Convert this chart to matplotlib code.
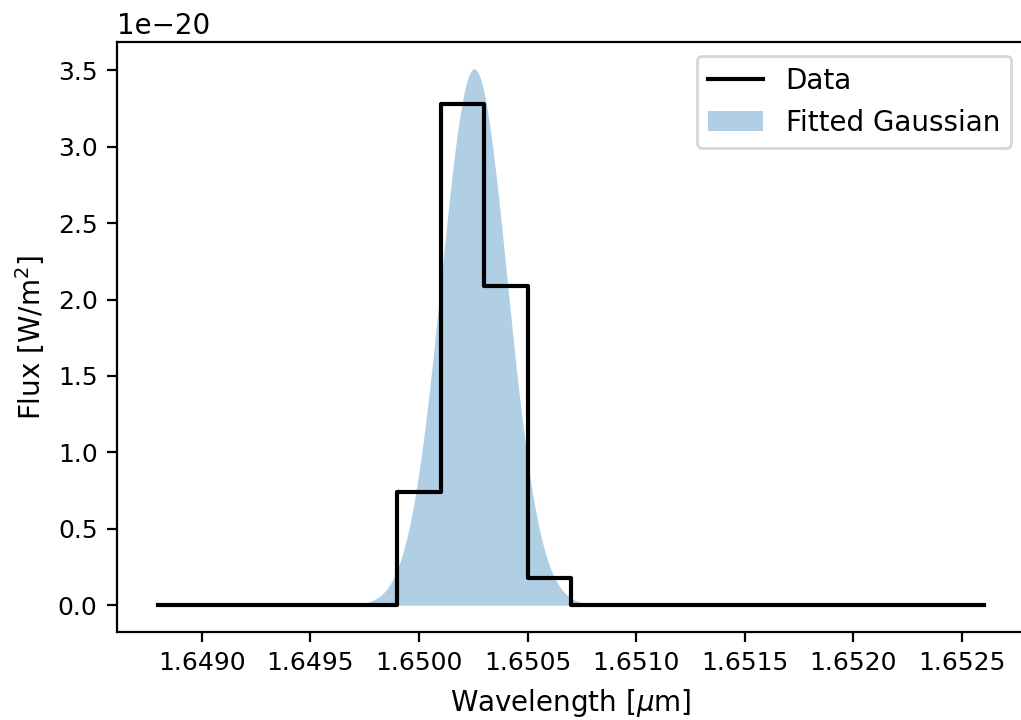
import numpy as np
import matplotlib.pyplot as plt

plt.rcParams['font.size'] = 10
plt.rcParams['xtick.labelsize'] = 9
plt.rcParams['ytick.labelsize'] = 9

# Spectre mesuré (flux en unités de 1e-20 W/m^2)
wave = [1.6488, 1.6490, 1.6492, 1.6494, 1.6496, 1.6498, 1.6500, 1.6502,
        1.6504, 1.6506, 1.6508, 1.6510, 1.6512, 1.6514, 1.6516, 1.6518,
        1.6520, 1.6522, 1.6524, 1.6526]
flux = [0.0, 0.0, 0.0, 0.0, 0.0, 0.0, 0.74, 3.28,
        2.09, 0.18, 0.0, 0.0, 0.0, 0.0, 0.0, 0.0,
        0.0, 0.0, 0.0, 0.0]

# Paramètres de la gaussienne ajustée
amp = 3.51          # amplitude (1e-20 W/m^2)
center = 1.650254   # centre en um
sigma = 0.000152    # largeur en um

wave = np.array(wave)
flux = np.array(flux) * 1e-20

x_fit = np.linspace(wave[0], wave[-1], 2000)
g_fit = amp * 1e-20 * np.exp(-0.5 * ((x_fit - center) / sigma) ** 2)

fig = plt.figure(figsize=(1021 / 200, 720 / 200), dpi=200)
ax = fig.add_axes([117 / 1021, 88 / 720, 908 / 1021, 590 / 720])

ax.plot(wave, flux, drawstyle='steps-mid', color='k', lw=1.5, label='Data')
ax.fill_between(x_fit, g_fit, color='C0', alpha=0.35, lw=0, label='Fitted Gaussian')

ax.set_xlabel(r'Wavelength [$\mu$m]')
ax.set_ylabel(r'Flux [W/m$^2$]')
ax.set_xticks([1.6490, 1.6495, 1.6500, 1.6505, 1.6510, 1.6515, 1.6520, 1.6525])
ax.set_xticklabels(['1.6490', '1.6495', '1.6500', '1.6505', '1.6510', '1.6515', '1.6520', '1.6525'])
ax.yaxis.get_offset_text().set_fontsize(10)
ax.legend(loc='upper right')

fig.savefig('out.png', dpi=200)
